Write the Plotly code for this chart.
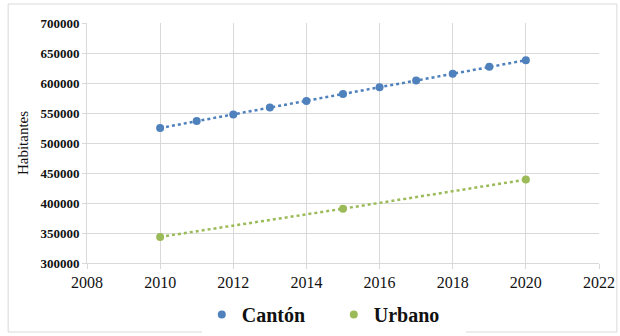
import plotly.graph_objects as go

# Population by year
years_canton = [2010, 2011, 2012, 2013, 2014, 2015, 2016, 2017, 2018, 2019, 2020]
canton = [525000, 536500, 547500, 559000, 570000, 581500, 593000, 604000, 615500, 627000, 638000]

years_urbano = [2010, 2015, 2020]
urbano = [343500, 390500, 439000]

x_ticks = [2008, 2010, 2012, 2014, 2016, 2018, 2020, 2022]
y_ticks = [300000, 350000, 400000, 450000, 500000, 550000, 600000, 650000, 700000]

blue = "#4F81BD"
green = "#9BBB59"
serif = "Times New Roman, Liberation Serif, serif"

fig = go.Figure()
# dotted trend lines (no legend entry)
for xs, ys, c in [(years_canton, canton, blue), (years_urbano, urbano, green)]:
    fig.add_trace(go.Scatter(
        x=xs, y=ys, mode="lines", showlegend=False, hoverinfo="skip",
        line=dict(color=c, width=2.5, dash="dot"),
    ))
# data points
fig.add_trace(go.Scatter(
    x=years_canton, y=canton, name="Cantón", mode="markers",
    marker=dict(color=blue, size=8),
))
fig.add_trace(go.Scatter(
    x=years_urbano, y=urbano, name="Urbano", mode="markers",
    marker=dict(color=green, size=8),
))

fig.update_layout(
    width=620, height=336,
    margin=dict(l=87, r=21, t=23, b=73, autoexpand=False),
    paper_bgcolor="white", plot_bgcolor="white",
    font=dict(family=serif, color="#000000"),
    showlegend=True,
    legend=dict(
        orientation="h", x=0.482, xanchor="center", y=-0.215, yanchor="middle",
        font=dict(size=20, family=serif, color="#111", weight="bold"),
        itemsizing="trace", itemwidth=30, tracegroupgap=0,
        entrywidth=87, entrywidthmode="pixels",
    ),
    xaxis=dict(
        range=[2008, 2022], tickvals=x_ticks, ticktext=[str(v) for v in x_ticks],
        showgrid=True, gridcolor="#d9d9d9", gridwidth=1,
        showline=True, linecolor="#d9d9d9", linewidth=1,
        ticks="outside", ticklen=5, tickcolor="#d9d9d9",
        tickfont=dict(size=16, family=serif, color="#111"),
        zeroline=False,
    ),
    yaxis=dict(
        range=[300000, 700000], tickvals=y_ticks, ticktext=[str(v) for v in y_ticks],
        showgrid=True, gridcolor="#d9d9d9", gridwidth=1,
        showline=True, linecolor="#d9d9d9", linewidth=1,
        ticks="outside", ticklen=4, tickcolor="#d9d9d9",
        tickfont=dict(size=13, family=serif, color="#111", weight="bold"),
        title=dict(text="Habitantes", font=dict(size=15, family=serif, color="#111"), standoff=8),
        zeroline=False,
    ),
    shapes=[dict(
        type="rect", xref="paper", yref="paper",
        x0=-0.154, x1=1.035, y0=-0.2875, y1=1.079,
        line=dict(color="#d9d9d9", width=1), fillcolor="rgba(0,0,0,0)", layer="below",
    )],
)

fig.write_html("out.html")
